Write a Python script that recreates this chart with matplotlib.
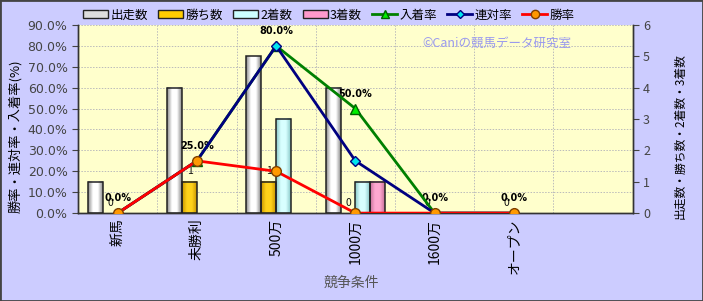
import numpy as np
import matplotlib.pyplot as plt
from matplotlib.patches import Patch, Rectangle
from matplotlib.lines import Line2D
from matplotlib.colors import LinearSegmentedColormap

plt.rcParams['font.family'] = ['Noto Sans CJK JP', 'DejaVu Sans']

categories = ['新馬', '未勝利', '500万', '1000万', '1600万', 'オープン', '']
starts = [1, 4, 5, 4, 0, 0]
wins = [0, 1, 1, 0, 0, 0]
seconds = [0, 0, 3, 1, 0, 0]
thirds = [0, 0, 0, 1, 0, 0]
win_rate = [0.0, 25.0, 20.0, 0.0, 0.0, 0.0]
rentai_rate = [0.0, 25.0, 80.0, 25.0, 0.0, 0.0]
place_rate = [0.0, 25.0, 80.0, 50.0, 0.0, 0.0]


def grad_bar(ax, x0, w, h, light, dark):
    if h <= 0:
        return
    cmap = LinearSegmentedColormap.from_list('g', [dark, light, light, dark])
    g = np.linspace(0, 1, 64).reshape(1, -1)
    ax.imshow(g, cmap=cmap, extent=(x0, x0 + w, 0, h), aspect='auto',
              interpolation='bilinear', zorder=2)
    ax.add_patch(Rectangle((x0, 0), w, h, fill=False, edgecolor='#222222',
                           linewidth=1.1, zorder=3))


fig = plt.figure(figsize=(7.03, 3.01), dpi=100, facecolor='#CCCCFF')
ax = fig.add_axes([0.111, 0.292, 0.789, 0.625])
ax.set_facecolor('#FFFFCC')
ax2 = ax.twinx()
ax3 = ax.twinx()

n = len(categories)
x = np.arange(n)
w = 0.187

# bars on right axis
bar_specs = [
    (starts, -2, '#FFFFFF', '#8A8A8A'),
    (wins, -1, '#FFD21A', '#C89600'),
    (seconds, 0, '#D8FFFF', '#88C8C8'),
    (thirds, 1, '#FFA8D0', '#C8709A'),
]
for vals, off, light, dark in bar_specs:
    for i, v in enumerate(vals):
        grad_bar(ax2, x[i] + off * w, w, v, light, dark)

for i, v in enumerate(wins):
    ax2.annotate(str(v), (x[i] - w / 2, v), xytext=(0, 4), textcoords='offset points',
                 ha='center', va='bottom', fontsize=7.5, color='#111111')

# lines on left axis scale
xi = x[:6]
ax3.plot(xi, place_rate, color='#008000', lw=2, marker='^', ms=7,
         mfc='#00EE00', mec='#006000', zorder=4)
ax3.plot(xi, rentai_rate, color='#000080', lw=2, marker='D', ms=5,
         mfc='#00E5EE', mec='#000080', zorder=5)
ax3.plot(xi, win_rate, color='#FF0000', lw=2, marker='o', ms=7,
         mfc='#FF9900', mec='#804000', zorder=6)
for i, v in enumerate(place_rate):
    ax3.annotate(f'{v:.1f}%', (xi[i], v), xytext=(0, 7), textcoords='offset points',
                 ha='center', va='bottom', fontsize=7, fontweight='bold', family='DejaVu Sans')

ax.set_xlim(-0.5, n - 0.5)
ax.set_ylim(0, 90)
ax2.set_ylim(0, 6)
ax3.set_ylim(0, 90)
ax2.set_xlim(-0.5, n - 0.5)
ax3.set_xlim(-0.5, n - 0.5)

ax.set_yticks(np.arange(0, 91, 10))
ax.set_yticklabels([f'{v:.1f}%' for v in np.arange(0, 91, 10)], family='DejaVu Sans')
ax2.set_yticks(range(0, 7))
ax3.axis('off')

ax.set_xticks(x)
ax.set_xticklabels(categories, rotation=90, fontsize=10)
ax.tick_params(axis='x', length=0, pad=4)
ax.tick_params(axis='y', labelsize=9, labelcolor='#444444', length=4, color='#444444')
ax2.tick_params(axis='y', labelsize=9, labelcolor='#444444', length=4, color='#444444')

# grid
for v in np.arange(10, 91, 10):
    ax.axhline(v, color='#BBBBBB', lw=0.7, ls=(0, (1.5, 1.5)), zorder=0)
for b in np.arange(0.5, n - 0.5, 1):
    ax.axvline(b, color='#BBBBBB', lw=0.7, ls=(0, (1.5, 1.5)), zorder=0)

for a in (ax, ax2):
    a.spines['top'].set_visible(False)
    for s in ('left', 'right', 'bottom'):
        a.spines[s].set_color('#333333')
        a.spines[s].set_linewidth(1.0)

ax.set_ylabel('勝率・連対率・入着率(%)', fontsize=9.5)
ax.yaxis.set_label_coords(-0.1, 0.41)
ax2.set_ylabel('出走数・勝ち数・2着数・3着数', fontsize=8.5, rotation=90)
ax2.yaxis.set_label_coords(1.074, 0.41)
fig.text(0.5, 0.06, '競争条件', ha='center', va='center', fontsize=10, color='#555555')

ax.text(0.755, 0.905, '©Caniの競馬データ研究室', transform=ax.transAxes, ha='center',
        va='center', fontsize=9, color='#9999EE', zorder=1)

handles = [
    Patch(facecolor='#DDDDDD', edgecolor='#222222', label='出走数'),
    Patch(facecolor='#FFCC00', edgecolor='#222222', label='勝ち数'),
    Patch(facecolor='#CCFFFF', edgecolor='#222222', label='2着数'),
    Patch(facecolor='#FF99CC', edgecolor='#222222', label='3着数'),
    Line2D([], [], color='#008000', lw=2, marker='^', ms=6, mfc='#00EE00', mec='#006000', label='入着率'),
    Line2D([], [], color='#000080', lw=2, marker='D', ms=4, mfc='#00E5EE', mec='#000080', label='連対率'),
    Line2D([], [], color='#FF0000', lw=2, marker='o', ms=6, mfc='#FF9900', mec='#804000', label='勝率'),
]
fig.legend(handles=handles, loc='center left', bbox_to_anchor=(0.111, 0.95), ncol=7,
           frameon=False, fontsize=9, handlelength=2.0, handleheight=0.6,
           handletextpad=0.2, columnspacing=0.8, borderaxespad=0)

fig.add_artist(Rectangle((0, 0), 1, 1, transform=fig.transFigure, fill=False,
                         edgecolor='#444444', lw=2))

fig.savefig('out.png', dpi=100, facecolor=fig.get_facecolor())
